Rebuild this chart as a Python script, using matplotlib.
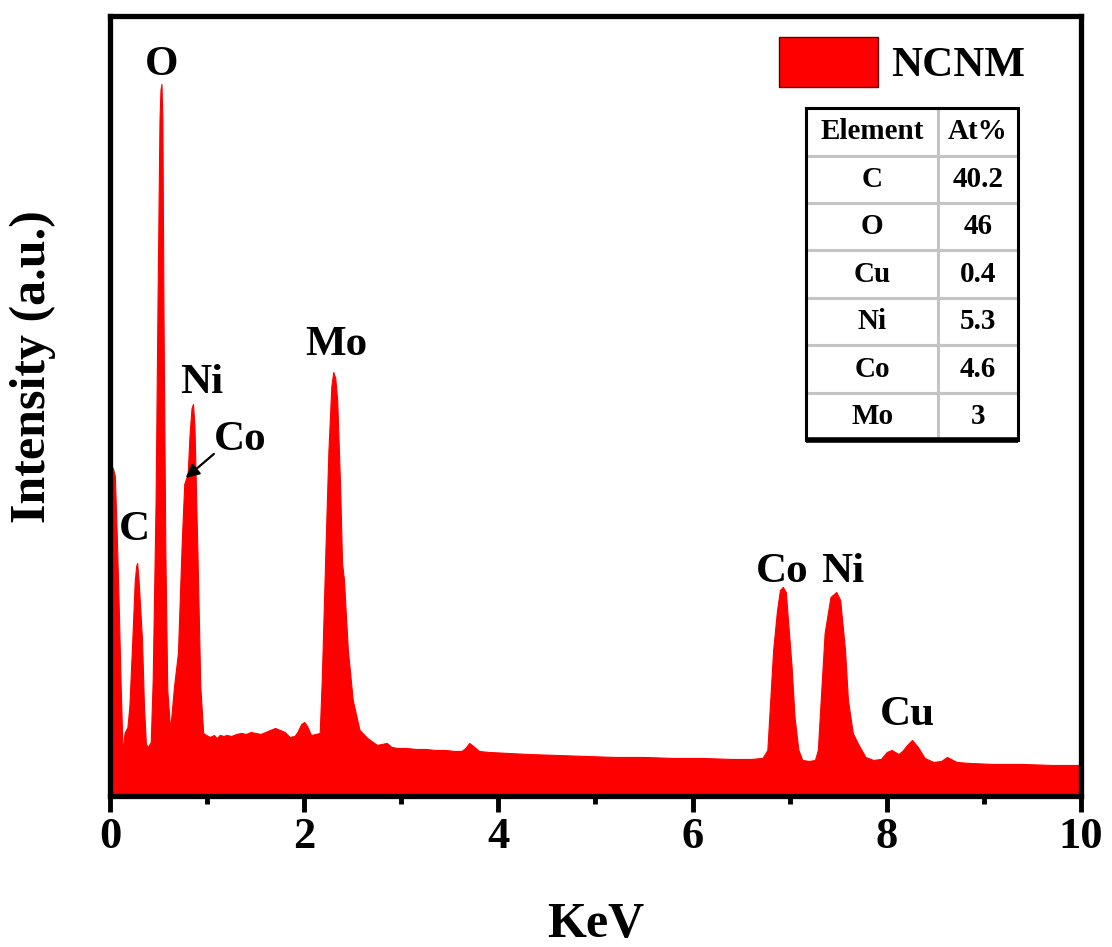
import matplotlib
matplotlib.use('Agg')
import matplotlib.pyplot as plt
from matplotlib.patches import Rectangle, Patch
from matplotlib.ticker import MultipleLocator

plt.rcParams['font.family'] = ['Liberation Serif', 'DejaVu Serif']
plt.rcParams['font.weight'] = 'bold'

# EDS spectrum (energy in keV, intensity in a.u.)
energy = [0.00, 0.03, 0.05, 0.07, 0.09, 0.11, 0.13, 0.15, 0.18, 0.20,
          0.23, 0.255, 0.27, 0.28, 0.295, 0.33, 0.35, 0.37, 0.39, 0.42,
          0.44, 0.47, 0.49, 0.51, 0.52, 0.53, 0.54, 0.55, 0.57, 0.59,
          0.62, 0.66, 0.70, 0.74, 0.765, 0.785, 0.80, 0.82, 0.84, 0.855,
          0.87, 0.90, 0.93, 0.96, 0.99, 1.03, 1.07, 1.10, 1.13, 1.17,
          1.20, 1.25, 1.30, 1.35, 1.40, 1.45, 1.50, 1.55, 1.60, 1.65,
          1.70, 1.75, 1.80, 1.85, 1.90, 1.93, 1.97, 2.00, 2.03, 2.07,
          2.12, 2.16, 2.18, 2.19, 2.22, 2.25, 2.28, 2.30, 2.32, 2.34,
          2.37, 2.39, 2.41, 2.43, 2.45, 2.50, 2.57, 2.65, 2.75, 2.80,
          2.85, 2.90, 2.96, 3.05, 3.15, 3.25, 3.35, 3.45, 3.55, 3.62,
          3.66, 3.70, 3.74, 3.80, 3.90, 4.10, 4.30, 4.60, 4.90, 5.20,
          5.50, 5.80, 6.10, 6.40, 6.60, 6.72, 6.77, 6.80, 6.83, 6.87,
          6.90, 6.93, 6.96, 6.98, 7.02, 7.05, 7.09, 7.13, 7.20, 7.26,
          7.29, 7.33, 7.36, 7.42, 7.48, 7.52, 7.57, 7.60, 7.65, 7.70,
          7.78, 7.86, 7.94, 8.00, 8.05, 8.12, 8.16, 8.21, 8.26, 8.32,
          8.39, 8.48, 8.56, 8.62, 8.72, 8.85, 9.10, 9.40, 9.70, 10.00]
intensity = [331, 328, 320, 260, 190, 110, 44, 63, 69, 90,
             156, 215, 230, 233, 215, 156, 90, 52, 49, 54,
             116, 296, 496, 676, 706, 712, 676, 496, 246, 106,
             66, 110, 143, 256, 312, 318, 322, 362, 388, 392,
             370, 246, 110, 63, 61, 59, 61, 58, 61, 60,
             61, 60, 62, 63, 62, 64, 63, 62, 64, 66,
             68, 66, 64, 59, 60, 64, 72, 74, 70, 61,
             62, 63, 113, 146, 250, 346, 410, 424, 418, 396,
             310, 233, 216, 180, 146, 96, 66, 58, 51, 52,
             53, 49, 48, 48, 47, 47, 46, 46, 45, 45,
             48, 53, 50, 45, 44, 43, 42, 41, 40, 39,
             39, 38, 38, 37, 37, 38, 46, 96, 146, 186,
             206, 209, 204, 179, 129, 79, 46, 36, 35, 36,
             46, 113, 163, 199, 204, 196, 146, 96, 63, 53,
             39, 36, 37, 44, 46, 42, 45, 51, 56, 49,
             38, 34, 35, 39, 34, 33, 32, 32, 31, 31]

# peak labels
peak_names = ['O', 'C', 'Ni', 'Co', 'Mo', 'Co', 'Ni', 'Cu']
peak_x = [0.535, 0.25, 0.94, 1.34, 2.33, 6.92, 7.55, 8.21]
peak_y = [731, 266, 413, 356, 451, 224, 224, 81]

# composition table
elements = ['C', 'O', 'Cu', 'Ni', 'Co', 'Mo']
at_pct = ['40.2', '46', '0.4', '5.3', '4.6', '3']

fig = plt.figure(figsize=(11.12, 9.47), dpi=100)
ax = fig.add_axes([0.0989, 0.1595, 0.8732, 0.8236])

ax.fill_between(energy, intensity, 0, color='#ff0000', linewidth=0.8, label='NCNM')

ax.set_xlim(0, 10)
ax.set_ylim(0, 780)
ax.xaxis.set_major_locator(MultipleLocator(2))
ax.xaxis.set_minor_locator(MultipleLocator(1))
ax.set_yticks([])
ax.tick_params(axis='x', which='major', direction='out', length=11.5, width=3.5,
               labelsize=32, pad=4)
ax.tick_params(axis='x', which='minor', direction='out', length=6, width=3.5)
for sp in ax.spines.values():
    sp.set_linewidth(3.8)

ax.set_xlabel('KeV', fontsize=36, fontweight='bold', labelpad=32)
ax.set_ylabel('Intensity (a.u.)', fontsize=36, fontweight='bold')
ax.yaxis.set_label_coords(-0.056, 0.55)

for name, x, y in zip(peak_names, peak_x, peak_y):
    ax.text(x, y, name, fontsize=31, fontweight='bold', ha='center', va='center')

ax.annotate('', xy=(0.78, 318), xytext=(1.07, 342),
            arrowprops=dict(arrowstyle='-|>', color='black', lw=1.6,
                            mutation_scale=20, shrinkA=0, shrinkB=0))

leg = ax.legend(handles=[Patch(facecolor='#ff0000', edgecolor='#600000', linewidth=1)],
                labels=['NCNM'], loc='upper right', bbox_to_anchor=(0.969, 1.006),
                frameon=False, fontsize=31, handlelength=2.3, handleheight=1.4,
                handletextpad=0.3, borderaxespad=0.2)

# table in axes coordinates
tx0, ty0, tw, th = 0.717, 0.456, 0.218, 0.426
cells = [['Element', 'At%']] + [[e, v] for e, v in zip(elements, at_pct)]
tbl = ax.table(cellText=cells, cellLoc='center', colWidths=[0.623, 0.377],
               bbox=[tx0, ty0, tw, th])
tbl.auto_set_font_size(False)
for (r, c), cell in tbl.get_celld().items():
    cell.set_edgecolor('#c4c4c4')
    cell.set_linewidth(2.2)
    cell.set_facecolor('white')
    cell.get_text().set_fontsize(21)
    cell.get_text().set_fontweight('bold')
ax.add_patch(Rectangle((tx0, ty0), tw, th, transform=ax.transAxes, fill=False,
                       edgecolor='black', linewidth=2.2, zorder=10))
ax.plot([tx0, tx0 + tw], [ty0, ty0], transform=ax.transAxes, color='black',
        linewidth=4, zorder=11, solid_capstyle='butt')

fig.savefig('out.png', dpi=100)
